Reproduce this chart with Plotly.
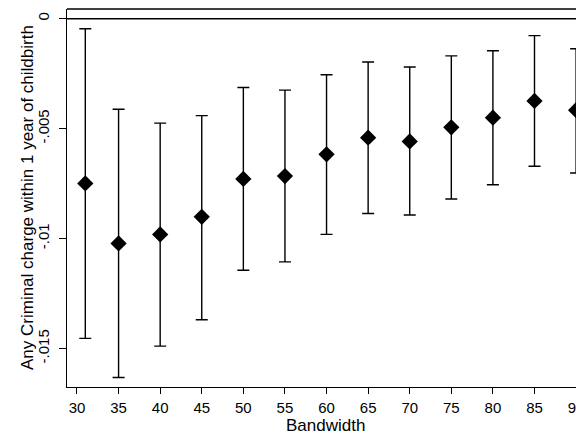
import plotly.graph_objects as go

# bandwidths and point estimates with 95% CI bounds
bandwidth = [31, 35, 40, 45, 50, 55, 60, 65, 70, 75, 80, 85, 90]
estimate = [-0.00749, -0.01022, -0.00981, -0.00901, -0.00729, -0.00716, -0.00617,
            -0.00541, -0.00558, -0.00494, -0.00450, -0.00374, -0.00416]
ci_upper = [-0.00046, -0.00412, -0.00475, -0.00441, -0.00313, -0.00325, -0.00255,
            -0.00197, -0.00220, -0.00169, -0.00146, -0.00077, -0.00137]
ci_lower = [-0.01454, -0.01632, -0.01489, -0.01369, -0.01144, -0.01106, -0.00981,
            -0.00886, -0.00893, -0.00820, -0.00755, -0.00671, -0.00702]

x_ticks = [30, 35, 40, 45, 50, 55, 60, 65, 70, 75, 80, 85, 90]
y_ticks = [-0.015, -0.01, -0.005, 0]
y_tick_labels = ["-.015", "-.01", "-.005", "0"]

err_plus = [u - e for u, e in zip(ci_upper, estimate)]
err_minus = [e - l for e, l in zip(estimate, ci_lower)]

font = "Liberation Sans, Arial, Helvetica, sans-serif"

fig = go.Figure()
fig.add_trace(go.Scatter(
    x=bandwidth,
    y=estimate,
    mode="markers",
    marker=dict(symbol="diamond", size=12.5, color="black"),
    error_y=dict(type="data", symmetric=False, array=err_plus, arrayminus=err_minus,
                 color="black", thickness=1.4, width=6),
    showlegend=False,
))

# page body adds an 8px offset, so the figure is 8px smaller than the window
fig.update_layout(
    width=576,
    height=431,
    margin=dict(l=59, r=0, t=1, b=52),
    plot_bgcolor="white",
    paper_bgcolor="white",
    font=dict(family=font, color="black", size=15),
    xaxis=dict(
        range=[28.8, 90.95],
        tickvals=x_ticks,
        ticks="outside", ticklen=6, tickwidth=1.2, tickcolor="black",
        showline=True, linecolor="black", linewidth=1.3,
        showgrid=False, zeroline=False, automargin=False,
        ticklabelstandoff=1, ticklabeloverflow="allow",
    ),
    yaxis=dict(
        range=[-0.01675, 0.00044],
        tickvals=y_ticks,
        ticktext=y_tick_labels,
        tickangle=-90,
        ticks="outside", ticklen=7, tickwidth=1.2, tickcolor="black",
        showline=True, linecolor="black", linewidth=1.3,
        showgrid=False, zeroline=False, automargin=False,
        ticklabelstandoff=4,
    ),
    shapes=[
        # reference line at zero
        dict(type="line", xref="paper", x0=0, x1=1, yref="y", y0=0, y1=0,
             line=dict(color="black", width=1.5)),
        # plot region outline on top
        dict(type="line", xref="paper", x0=0, x1=1, yref="paper", y0=1, y1=1,
             line=dict(color="black", width=1.3)),
    ],
    annotations=[
        dict(text="Bandwidth", xref="paper", yref="paper", x=0.5, y=0,
             xanchor="center", yanchor="middle", yshift=-38, showarrow=False,
             font=dict(size=17)),
        dict(text="Any Criminal charge within 1 year of childbirth",
             xref="paper", yref="paper", x=0, y=0.5, xanchor="center",
             yanchor="middle", xshift=-40, textangle=-90, showarrow=False,
             font=dict(size=17)),
    ],
)

fig.write_html("out.html")
